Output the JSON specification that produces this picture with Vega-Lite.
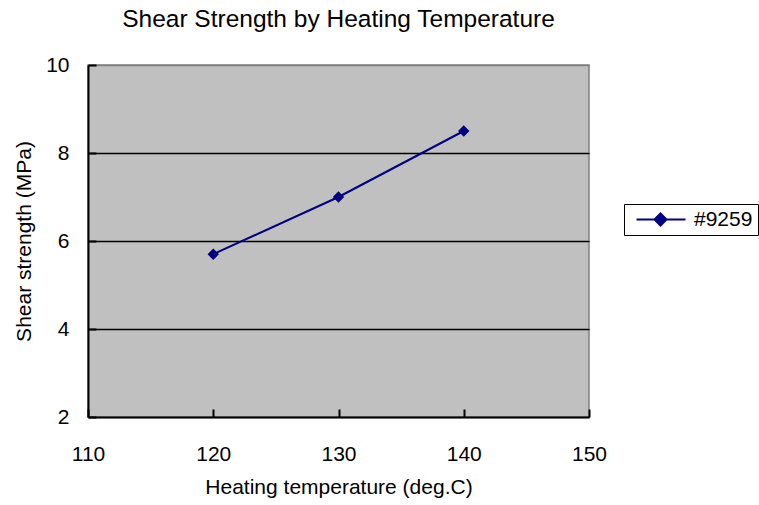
{
  "$schema": "https://vega.github.io/schema/vega-lite/v6.json",
  "width": 501,
  "height": 352,
  "autosize": {"type": "none"},
  "padding": {"left": 88, "top": 65, "right": 170, "bottom": 88},
  "background": "white",
  "title": {
    "text": "Shear Strength by Heating Temperature",
    "font": "Liberation Sans",
    "fontSize": 24.5,
    "fontWeight": "normal",
    "color": "black",
    "anchor": "middle",
    "offset": 22
  },
  "config": {
    "view": {"fill": "#c0c0c0", "stroke": "#808080", "strokeWidth": 1.5},
    "font": "Liberation Sans"
  },
  "data": {
    "values": [
      {"temp": 120, "strength": 5.7, "series": "#9259"},
      {"temp": 130, "strength": 7.0, "series": "#9259"},
      {"temp": 140, "strength": 8.5, "series": "#9259"}
    ]
  },
  "mark": {"type": "line", "color": "#000080", "strokeWidth": 2, "point": {"shape": "diamond", "size": 130, "filled": true, "color": "#000080", "opacity": 1}},
  "encoding": {
    "x": {
      "field": "temp",
      "type": "quantitative",
      "scale": {"domain": [110, 150], "nice": false, "zero": false},
      "axis": {
        "values": [110, 120, 130, 140, 150],
        "title": "Heating temperature (deg.C)",
        "titleFont": "Liberation Sans",
        "titleFontSize": 21,
        "titleFontWeight": "normal",
        "titleColor": "black",
        "titlePadding": 12,
        "labelFont": "Liberation Sans",
        "labelFontSize": 21,
        "labelColor": "black",
        "labelPadding": 34,
        "labelFlush": false,
        "labelOverlap": false,
        "domainColor": "black",
        "domainWidth": 2,
        "tickColor": "black",
        "tickWidth": 2,
        "tickSize": -8,
        "grid": false
      }
    },
    "y": {
      "field": "strength",
      "type": "quantitative",
      "scale": {"domain": [2, 10], "nice": false, "zero": false},
      "axis": {
        "values": [2, 4, 6, 8, 10],
        "title": "Shear strength (MPa)",
        "titleFont": "Liberation Sans",
        "titleFontSize": 21,
        "titleFontWeight": "normal",
        "titleColor": "black",
        "titlePadding": 11,
        "labelFont": "Liberation Sans",
        "labelFontSize": 21,
        "labelColor": "black",
        "labelPadding": 27,
        "labelFlush": false,
        "labelOverlap": false,
        "domainColor": "black",
        "domainWidth": 2,
        "tickColor": "black",
        "tickWidth": 2,
        "tickSize": -8,
        "grid": true,
        "gridColor": {"condition": {"test": "datum.value == 10 || datum.value == 2", "value": "#808080"}, "value": "black"},
        "gridWidth": 1.5,
        "gridOpacity": 1
      }
    },
    "color": {
      "field": "series",
      "type": "nominal",
      "scale": {"range": ["#000080"]},
      "legend": {
        "orient": "none",
        "legendX": 536,
        "legendY": 139,
        "title": null,
        "strokeColor": "black",
        "fillColor": "white",
        "padding": 5,
        "labelFont": "Liberation Sans",
        "labelFontSize": 21,
        "labelColor": "black",
        "symbolType": "M-0.375,0H5.75M1.875,0L2.625,-0.75L3.375,0L2.625,0.75Z",
        "symbolSize": 256,
        "symbolStrokeWidth": 2,
        "symbolFillColor": "#000080",
        "symbolStrokeColor": "#000080",
        "labelOffset": 44
      }
    }
  }
}
